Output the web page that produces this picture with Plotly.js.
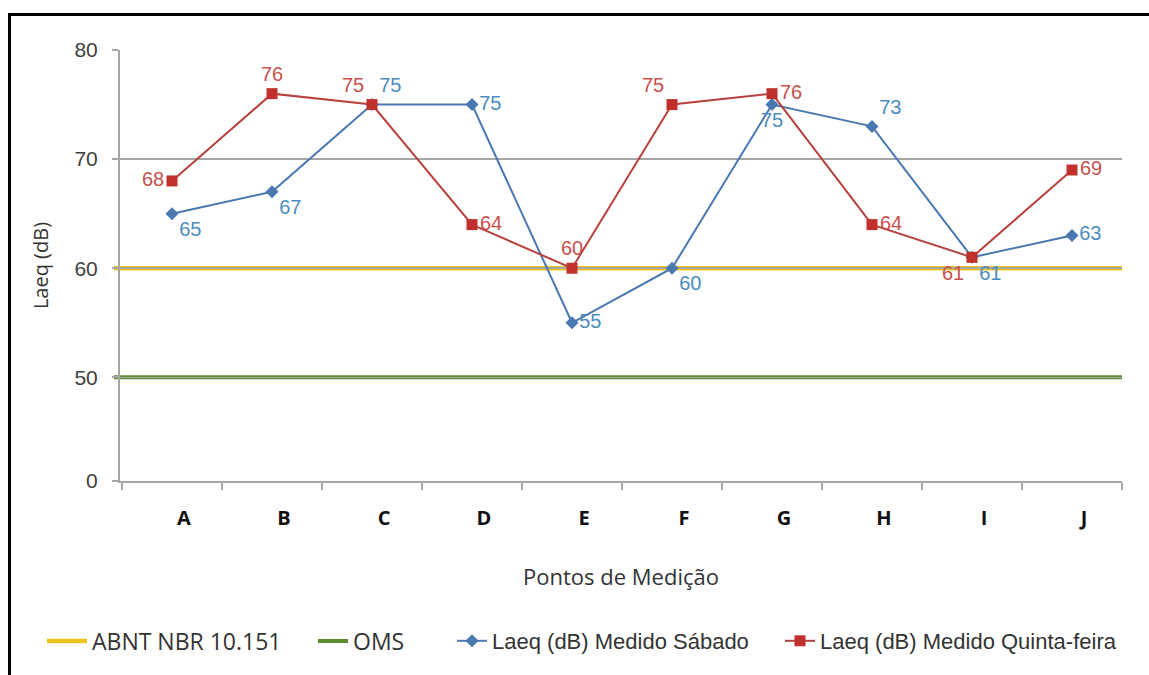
<!DOCTYPE html>
<html>
<head>
<meta charset="utf-8">
<script src="https://cdn.plot.ly/plotly-3.0.1.min.js"></script>
<style>
  html, body { margin: 0; padding: 0; background: #fff; overflow: hidden; }
  #wrap { position: relative; width: 1149px; height: 675px; }
  #chart { position: absolute; left: 0; top: 0; width: 1149px; height: 675px; }
  #frame { position: absolute; left: 8px; top: 13px; width: 2000px; height: 2000px;
           border: 3px solid #000; pointer-events: none; }
</style>
</head>
<body>
<div id="wrap">
  <div id="chart"></div>
  <div id="frame"></div>
</div>
<script>
// ---- data ----
const categories = ['A', 'B', 'C', 'D', 'E', 'F', 'G', 'H', 'I', 'J'];
const sabado = [65, 67, 75, 75, 55, 60, 75, 73, 61, 63];
const quinta = [68, 76, 75, 64, 60, 75, 76, 64, 61, 69];
const abntLimit = 60;   // ABNT NBR 10.151
const omsLimit = 50;    // OMS
const yTickLabels = [0, 50, 60, 70, 80];

const seriesNames = {
  abnt: 'ABNT NBR 10.151',
  oms: 'OMS',
  sabado: 'Laeq (dB) Medido Sábado',
  quinta: 'Laeq (dB) Medido Quinta-feira'
};

// The original axis is broken: 0..50 is compressed into one step,
// above 50 every 10 dB takes one step.
function yScale(v) { return v <= 50 ? 0.5 + v * 9.5 / 50 : v - 40; }

const sabadoPos = ['bottom right', 'bottom right', 'top right', 'middle right', 'middle right',
                   'bottom right', 'bottom center', 'top right', 'bottom right', 'middle right'];
const quintaPos = ['middle left', 'top center', 'top left', 'middle right', 'top center',
                   'top left', 'middle right', 'middle right', 'bottom left', 'middle right'];

const blue = '#4a78b0';
const red = '#b8423e';

const traces = [
  {
    type: 'scatter', mode: 'lines+markers+text',
    name: seriesNames.sabado, legend: 'legend3',
    x: categories, y: sabado.map(yScale),
    text: sabado.map(String), textposition: sabadoPos,
    textfont: { family: 'Liberation Sans, Arial, sans-serif', size: 20, color: '#4b8cc0' },
    line: { color: blue, width: 2 },
    marker: { symbol: 'diamond', size: 10, color: blue },
    cliponaxis: false, hoverinfo: 'x+text'
  },
  {
    type: 'scatter', mode: 'lines+markers+text',
    name: seriesNames.quinta, legend: 'legend4',
    x: categories, y: quinta.map(yScale),
    text: quinta.map(String), textposition: quintaPos,
    textfont: { family: 'Liberation Sans, Arial, sans-serif', size: 20, color: '#c9504c' },
    line: { color: red, width: 2 },
    marker: { symbol: 'square', size: 11, color: '#c0302c' },
    cliponaxis: false, hoverinfo: 'x+text'
  }
];

const plotLeft = 120, plotRight = 27, plotTop = 50, plotBottom = 194;
const plotW = 1149 - plotLeft - plotRight;
const plotH = 675 - plotTop - plotBottom;
function px2paperX(px) { return (px - plotLeft) / plotW; }
const legendY = (675 - plotBottom - 641) / plotH;

const legendBase = {
  orientation: 'h', y: legendY, yanchor: 'middle', xanchor: 'left',
  bgcolor: 'rgba(0,0,0,0)', borderwidth: 0
};
const calibriLike = { family: 'Open Sans, sans-serif', size: 23, color: '#333333' };
const arialLike = { family: 'Liberation Sans, Arial, sans-serif', size: 22, color: '#333333' };

const layout = {
  width: 1149, height: 675,
  margin: { l: plotLeft, r: plotRight, t: plotTop, b: plotBottom, pad: 0 },
  paper_bgcolor: '#ffffff', plot_bgcolor: '#ffffff',
  xaxis: {
    type: 'category', range: [-0.52, 9.5],
    showline: true, linecolor: '#a6a6a6', linewidth: 2,
    ticks: 'outside', tickson: 'boundaries', ticklen: 7, tickwidth: 2, tickcolor: '#a6a6a6',
    showgrid: false, zeroline: false,
    tickfont: { family: 'Open Sans, sans-serif', size: 20, color: '#111111', weight: 700 },
    ticklabelstandoff: 18, ticklabelshift: 12,
    title: { text: 'Pontos de Medição', font: { family: 'Open Sans, sans-serif', size: 22, color: '#333333' }, standoff: 40 },
    fixedrange: true
  },
  yaxis: {
    range: [yScale(0), yScale(80)],
    tickmode: 'array', tickvals: yTickLabels.map(yScale), ticktext: yTickLabels.map(String),
    showline: true, linecolor: '#a6a6a6', linewidth: 2,
    ticks: 'outside', ticklen: 6, tickwidth: 2, tickcolor: '#a6a6a6',
    showgrid: true, gridcolor: '#a6a6a6', gridwidth: 1.5, zeroline: false,
    tickfont: { family: 'Liberation Sans, Arial, sans-serif', size: 21, color: '#404040' },
    ticklabelstandoff: 10,
    title: { text: 'Laeq (dB)', font: { family: 'Open Sans, sans-serif', size: 20, color: '#333333' }, standoff: 20 },
    fixedrange: true
  },
  shapes: [
    {
      type: 'line', xref: 'paper', yref: 'y', x0: -0.006, x1: 1,
      y0: yScale(abntLimit), y1: yScale(abntLimit),
      line: { color: '#ecc31c', width: 4.5 }, layer: 'below',
      showlegend: true, name: seriesNames.abnt, legend: 'legend'
    },
    {
      type: 'line', xref: 'paper', yref: 'y', x0: -0.006, x1: 1,
      y0: yScale(omsLimit), y1: yScale(omsLimit),
      line: { color: '#5b8a30', width: 4 }, layer: 'below',
      showlegend: true, name: seriesNames.oms, legend: 'legend2'
    }
  ],
  legend: Object.assign({}, legendBase, { x: px2paperX(42), itemwidth: 40, font: calibriLike }),
  legend2: Object.assign({}, legendBase, { x: px2paperX(313), font: calibriLike }),
  legend3: Object.assign({}, legendBase, { x: px2paperX(452), font: arialLike }),
  legend4: Object.assign({}, legendBase, { x: px2paperX(780), font: arialLike }),
  showlegend: true
};

Plotly.newPlot('chart', traces, layout, { displayModeBar: false, staticPlot: true });
</script>
</body>
</html>
